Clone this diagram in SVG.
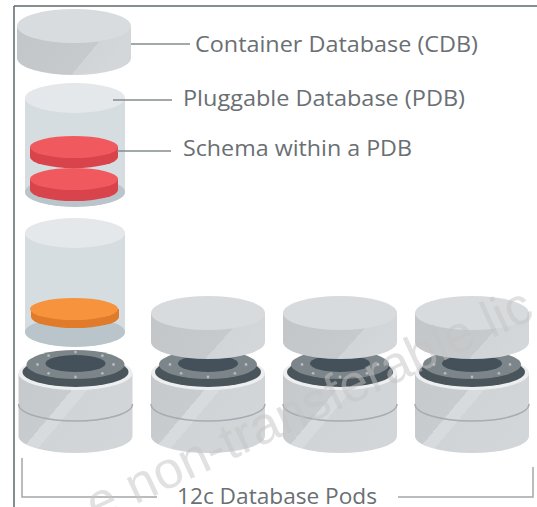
<svg xmlns="http://www.w3.org/2000/svg" width="537" height="507" viewBox="0 0 537 507">
  <style>
    .lbl{font-family:"Open Sans","Liberation Sans",sans-serif;font-size:22.5px;fill:#6a6f73}
    .lead{stroke:#858b8f;stroke-width:1.5;fill:none}
    .frame{stroke:#5f686d;stroke-width:1.5;fill:none}
    .bracket{stroke:#a3a8ab;stroke-width:1.5;fill:none}
    .glass{fill:#d5dde1}
    .glass-top{fill:#e4e8ea}
    .glass-floor{fill:#bac5cb}
    .dot{fill:#b5bbbf}
    .wm{font-family:"Liberation Sans",Arial,sans-serif;font-size:52px;fill:#c4c4c4;opacity:0.5}
  </style>
  <defs>
    <!-- side shading with a diagonal facet -->
    <linearGradient id="capSide" x1="0" y1="0" x2="1" y2="0.36">
      <stop offset="0" stop-color="#c2c6c9"/>
      <stop offset="0.74" stop-color="#c6cacd"/>
      <stop offset="0.74" stop-color="#d1d5d7"/>
      <stop offset="1" stop-color="#d4d7d9"/>
    </linearGradient>
    <linearGradient id="baseSide" x1="0" y1="0" x2="1" y2="0.59">
      <stop offset="0" stop-color="#c5c9cc"/>
      <stop offset="0.44" stop-color="#c8ccce"/>
      <stop offset="0.44" stop-color="#d8dbdd"/>
      <stop offset="0.54" stop-color="#d8dbdd"/>
      <stop offset="0.54" stop-color="#d1d4d7"/>
      <stop offset="1" stop-color="#d3d6d8"/>
    </linearGradient>
    <!-- pod base: drum with seam, rim, flange ring and hole -->
    <g id="base">
      <path d="M-57,373 V436 A57,17 0 0 0 57,436 V373 Z" fill="url(#baseSide)"/>
      <path d="M-57,404 A57,17 0 0 0 57,404" stroke="#a6acb0" stroke-width="1.5" fill="none"/>
      <ellipse cx="0" cy="373" rx="57" ry="17" fill="#eceeef"/>
      <ellipse cx="0" cy="372" rx="53" ry="15" fill="#4a555b"/>
      <ellipse cx="0" cy="364.5" rx="49" ry="14.5" fill="#7c8589"/>
      <ellipse cx="0" cy="363.5" rx="30" ry="8.5" fill="#44505a"/>
      <circle class="dot" cx="38" cy="364.5" r="1.4"/>
      <circle class="dot" cx="26.9" cy="373.3" r="1.4"/>
      <circle class="dot" cx="0" cy="377" r="1.4"/>
      <circle class="dot" cx="-26.9" cy="373.3" r="1.4"/>
      <circle class="dot" cx="-38" cy="364.5" r="1.4"/>
      <circle class="dot" cx="-26.9" cy="355.7" r="1.4"/>
      <circle class="dot" cx="0" cy="352" r="1.4"/>
      <circle class="dot" cx="26.9" cy="355.7" r="1.4"/>
    </g>
    <!-- lifted lid -->
    <g id="lid">
      <path d="M-57,313 V342 A57,17 0 0 0 57,342 V313 Z" fill="url(#capSide)"/>
      <ellipse cx="0" cy="313" rx="57" ry="17" fill="#d8dbdd"/>
    </g>
  </defs>

  <rect width="537" height="507" fill="#ffffff"/>
  <path class="frame" d="M14,6 H537 M14,6 V507"/>

  <!-- container database disk -->
  <g id="cdb" transform="translate(74,0)">
    <path d="M-57,26 V58 A57,17 0 0 0 57,58 V26 Z" fill="url(#capSide)"/>
    <ellipse cx="0" cy="26" rx="57" ry="17" fill="#d9dcde"/>
  </g>

  <!-- pluggable database (glass cylinder) -->
  <g id="pdb" transform="translate(75,0)">
    <path class="glass" d="M-50,98 V192 A50,15 0 0 0 50,192 V98 Z"/>
    <ellipse class="glass-floor" cx="0" cy="192" rx="50" ry="15"/>
    <ellipse class="glass-top" cx="0" cy="98" rx="50" ry="15"/>
  </g>

  <!-- schemas inside the PDB -->
  <g id="schema" transform="translate(74,0)">
    <path d="M-44,179 V190 A44,11 0 0 0 44,190 V179 Z" fill="#d9434b"/>
    <ellipse cx="0" cy="179" rx="44" ry="11" fill="#f05a5e"/>
    <path d="M-44,147 V157 A44,11 0 0 0 44,157 V147 Z" fill="#d9434b"/>
    <ellipse cx="0" cy="147" rx="44" ry="11" fill="#f05a5e"/>
  </g>

  <!-- PDB with one schema, plugged into the first pod -->
  <g id="pdb-plugged" transform="translate(75,0)">
    <path class="glass" d="M-50,233 V332 A50,15 0 0 0 50,332 V233 Z"/>
    <ellipse class="glass-floor" cx="0" cy="332" rx="50" ry="15"/>
    <ellipse class="glass-top" cx="0" cy="233" rx="50" ry="15"/>
    <path d="M-44,309 V317 A44,11 0 0 0 44,317 V309 Z" fill="#e07b2c"/>
    <ellipse cx="-1" cy="309" rx="44" ry="11" fill="#f7923d"/>
  </g>

  <!-- database pods -->
  <g id="pod1" transform="translate(75.5,0)">
    <use href="#base"/>
  </g>
  <g id="pod2" transform="translate(208,0)">
    <use href="#base"/>
    <use href="#lid"/>
  </g>
  <g id="pod3" transform="translate(340,0)">
    <use href="#base"/>
    <use href="#lid"/>
  </g>
  <g id="pod4" transform="translate(472,0)">
    <use href="#base"/>
    <use href="#lid"/>
  </g>

  <!-- leaders and pod bracket -->
  <g id="connectors">
    <path class="lead" d="M131,44 H190"/>
    <path class="lead" d="M113,100 H172"/>
    <path class="lead" d="M117,151 H171"/>
    <path class="bracket" d="M22,458 V497 H157"/>
    <path class="bracket" d="M398,497 H533 V467"/>
  </g>

  <g id="labels">
    <text class="lbl" x="195" y="52" textLength="283" lengthAdjust="spacingAndGlyphs">Container Database (CDB)</text>
    <text class="lbl" x="183" y="106" textLength="282" lengthAdjust="spacingAndGlyphs">Pluggable Database (PDB)</text>
    <text class="lbl" x="183" y="156" textLength="229" lengthAdjust="spacingAndGlyphs">Schema within a PDB</text>
    <text class="lbl" x="177" y="504" textLength="200" lengthAdjust="spacingAndGlyphs">12c Database Pods</text>
  </g>

  <text class="wm" transform="translate(96,523) rotate(-25)">e non-transferable lic</text>
</svg>
